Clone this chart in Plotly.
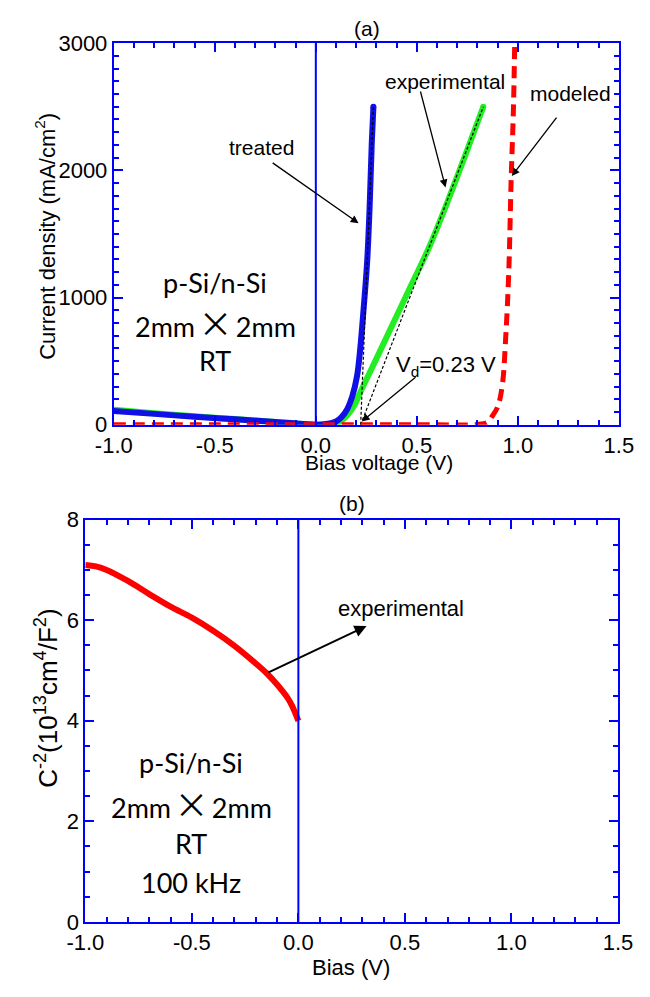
import plotly.graph_objects as go

# ---------------- data ----------------
# panel (a): J-V curves
treated_x = [-1.0, -0.8, -0.6, -0.4, -0.2, 0.0, 0.05, 0.1, 0.13, 0.157, 0.18, 0.204, 0.22, 0.235, 0.254, 0.266, 0.277, 0.285]
treated_y = [107, 85, 62, 42, 22, 0, 5, 25, 65, 127, 220, 383, 600, 880, 1280, 1700, 2220, 2500]

exp_x = [-1.0, -0.8, -0.6, -0.4, -0.2, 0.0, 0.05, 0.1, 0.13, 0.157, 0.19, 0.22, 0.27, 0.33, 0.40, 0.47, 0.563, 0.65, 0.74, 0.829]
exp_y = [117, 90, 66, 44, 22, 0, 2, 10, 35, 75, 150, 255, 420, 620, 855, 1090, 1403, 1745, 2120, 2500]

model_x = [-1.0, -0.5, 0.0, 0.5, 0.8, 0.85, 0.87, 0.9, 0.923, 0.94, 0.955, 0.967, 0.978, 0.985, 0.99]
model_y = [0, 0, 0, 0, 2, 20, 60, 140, 310, 690, 1200, 1940, 2480, 3050, 3400]

fit_treated_x = [0.222, 0.285]
fit_treated_y = [0, 2500]
fit_exp_x = [0.222, 0.829]
fit_exp_y = [0, 2500]

# panel (b): C^-2 vs bias
cv_x = [-1.0, -0.95, -0.9, -0.8, -0.7, -0.6, -0.5, -0.4, -0.3, -0.2, -0.15, -0.1, -0.05, -0.03, 0.0]
cv_y = [7.10, 7.07, 7.00, 6.78, 6.52, 6.27, 6.05, 5.79, 5.49, 5.14, 4.95, 4.72, 4.45, 4.30, 4.00]

x_tickvals = [-1.0, -0.5, 0.0, 0.5, 1.0, 1.5]
x_ticktext = ["-1.0", "-0.5", "0.0", "0.5", "1.0", "1.5"]
ya_tickvals = [0, 1000, 2000, 3000]
yb_tickvals = [0, 2, 4, 6, 8]

# ---------------- style ----------------
AX = "#0000FF"
TICKFONT = dict(family="Liberation Sans, Arial", size=22, color="black")
LBLFONT = dict(family="Liberation Sans, Arial", size=21, color="black")
BIGFONT = dict(family="Lato, Noto Sans", size=27, color="black")
TIMES = "\u2009<span style=\"font-family:'Noto Sans CJK SC';font-size:34px\">×</span>\u2009"

fig = go.Figure()

fig.add_trace(go.Scatter(x=exp_x, y=exp_y, mode="lines", line=dict(color="#22EE22", width=6, shape="spline"),
                         xaxis="x", yaxis="y", showlegend=False))
fig.add_trace(go.Scatter(x=treated_x, y=treated_y, mode="lines", line=dict(color="#1010E6", width=6, shape="spline"),
                         xaxis="x", yaxis="y", showlegend=False))
fig.add_trace(go.Scatter(x=[treated_x[-1]], y=[treated_y[-1]], mode="markers",
                         marker=dict(color="#1010E6", size=6), xaxis="x", yaxis="y", showlegend=False))
fig.add_trace(go.Scatter(x=[exp_x[-1]], y=[exp_y[-1]], mode="markers",
                         marker=dict(color="#22EE22", size=6), xaxis="x", yaxis="y", showlegend=False))
fig.add_trace(go.Scatter(x=fit_treated_x, y=fit_treated_y, mode="lines",
                         line=dict(color="black", width=1.2, dash="3px,2px"),
                         xaxis="x", yaxis="y", showlegend=False))
fig.add_trace(go.Scatter(x=fit_exp_x, y=fit_exp_y, mode="lines",
                         line=dict(color="black", width=1.2, dash="3px,2px"),
                         xaxis="x", yaxis="y", showlegend=False))
fig.add_trace(go.Scatter(x=model_x, y=model_y, mode="lines",
                         line=dict(color="#FF0000", width=5, dash="12px,7px", shape="spline"),
                         xaxis="x", yaxis="y", showlegend=False))

fig.add_trace(go.Scatter(x=cv_x, y=cv_y, mode="lines", line=dict(color="#FF0000", width=6, shape="spline"),
                         xaxis="x2", yaxis="y2", showlegend=False))


def xax(domain, anchor):
    return dict(domain=domain, anchor=anchor, range=[-1.0, 1.5],
                showline=True, linecolor=AX, linewidth=2, mirror="allticks",
                ticks="inside", tickcolor=AX, tickwidth=2, ticklen=9,
                tickmode="array", tickvals=x_tickvals, ticktext=x_ticktext,
                showgrid=False, zeroline=False, tickfont=TICKFONT,
                minor=dict(tickmode="linear", tick0=0, dtick=0.1, ticks="inside",
                           ticklen=5, tickcolor=AX, tickwidth=1.5, showgrid=False))


def yax(domain, anchor, rng, vals, mdtick):
    return dict(domain=domain, anchor=anchor, range=rng,
                showline=True, linecolor=AX, linewidth=2, mirror="allticks",
                ticks="inside", tickcolor=AX, tickwidth=2, ticklen=9,
                tickmode="array", tickvals=vals, ticktext=[str(v) for v in vals],
                showgrid=False, zeroline=False, tickfont=TICKFONT,
                minor=dict(tickmode="linear", tick0=0, dtick=mdtick, ticks="inside",
                           ticklen=5, tickcolor=AX, tickwidth=1.5, showgrid=False))


fig.update_layout(
    width=650, height=997, autosize=False,
    margin=dict(l=0, r=0, t=0, b=0),
    paper_bgcolor="white", plot_bgcolor="white",
    xaxis=xax([100/650, 633/650], "y"),
    yaxis=yax([1-423.3/997, 1-32/997], "x", [0, 3000], ya_tickvals, 100),
    xaxis2=xax([70/650, 632/650], "y2"),
    yaxis2=yax([1-933.3/997, 1-520.7/997], "x2", [0, 8], yb_tickvals, 0.5),
)

# vertical reference lines at 0 V
fig.add_shape(type="line", xref="x", yref="y domain", x0=0, x1=0, y0=0, y1=1,
              line=dict(color=AX, width=2))
fig.add_shape(type="line", xref="x2", yref="y2 domain", x0=0, x1=0, y0=0, y1=1,
              line=dict(color=AX, width=2))

ann = []
# panel labels and axis titles
ann.append(dict(text="(a)", xref="paper", yref="paper", x=367/650, y=1-17/997, showarrow=False,
                font=LBLFONT, xanchor="center", yanchor="middle"))
ann.append(dict(text="(b)", xref="paper", yref="paper", x=351/650, y=1-504/997, showarrow=False,
                font=LBLFONT, xanchor="center", yanchor="middle"))
ann.append(dict(text="Bias voltage (V)", xref="paper", yref="paper", x=380/650, y=1-462/997,
                showarrow=False, font=LBLFONT, xanchor="center", yanchor="middle"))
ann.append(dict(text="Bias (V)", xref="paper", yref="paper", x=350/650, y=1-980/997,
                showarrow=False, font=dict(family="Liberation Sans, Arial", size=22, color="black"),
                xanchor="center", yanchor="middle"))
ann.append(dict(text="Current density (mA/cm<sup>2</sup>)", xref="paper", yref="paper",
                x=28/650, y=1-230/997, textangle=-90, showarrow=False,
                font=dict(family="Liberation Sans, Arial", size=22, color="black"),
                xanchor="center", yanchor="middle"))
ann.append(dict(text="C<sup>-2</sup>(10<sup>13</sup>cm<sup>4</sup>/F<sup>2</sup>)", xref="paper", yref="paper",
                x=29/650, y=1-704/997, textangle=-90, showarrow=False,
                font=dict(family="Liberation Sans, Arial", size=26, color="black"),
                xanchor="center", yanchor="middle"))

# panel (a) sample description
for txt, yy in [("p-Si/n-Si", 1122), ("2mm" + TIMES + "2mm", 807), ("RT", 501)]:
    ann.append(dict(text=txt, xref="x", yref="y", x=-0.498, y=yy, showarrow=False, font=BIGFONT,
                    xanchor="center", yanchor="middle"))
# panel (b) sample description
for txt, yy in [("p-Si/n-Si", 3.17), ("2mm" + TIMES + "2mm", 2.36), ("RT", 1.56), ("100 kHz", 0.78)]:
    ann.append(dict(text=txt, xref="x2", yref="y2", x=-0.502, y=yy, showarrow=False, font=BIGFONT,
                    xanchor="center", yanchor="middle"))

# callout labels
ann.append(dict(text="treated", xref="x", yref="y", x=-0.268, y=2180, showarrow=False, font=LBLFONT))
ann.append(dict(text="experimental", xref="x", yref="y", x=0.637, y=2701, showarrow=False, font=LBLFONT))
ann.append(dict(text="modeled", xref="x", yref="y", x=1.261, y=2601, showarrow=False, font=LBLFONT))
ann.append(dict(text="V<sub>d</sub>=0.23 V", xref="x", yref="y", x=0.642, y=463, showarrow=False,
                font=dict(family="Liberation Sans, Arial", size=22, color="black")))
ann.append(dict(text="experimental", xref="x2", yref="y2", x=0.482, y=6.24, showarrow=False,
                font=dict(family="Liberation Sans, Arial", size=22, color="black")))

# arrows (tail -> head), data coordinates
arrows = [
    ("x", "y", -0.221, 2067, 0.2115, 1584),
    ("x", "y", 0.516, 2632, 0.642, 1866),
    ("x", "y", 1.197, 2427, 0.970, 1955),
    ("x", "y", 0.501, 383, 0.2275, 25),
    ("x2", "y2", -0.147, 4.948, 0.320, 5.885),
]
for xr, yr, tx, ty, hx, hy in arrows:
    ann.append(dict(text="", xref=xr, yref=yr, axref=xr, ayref=yr, x=hx, y=hy, ax=tx, ay=ty,
                    showarrow=True, arrowhead=2, arrowsize=1.2, arrowwidth=1.3 if xr == "x" else 2,
                    arrowcolor="black"))

fig.update_layout(annotations=ann)
fig.write_html("out.html")
